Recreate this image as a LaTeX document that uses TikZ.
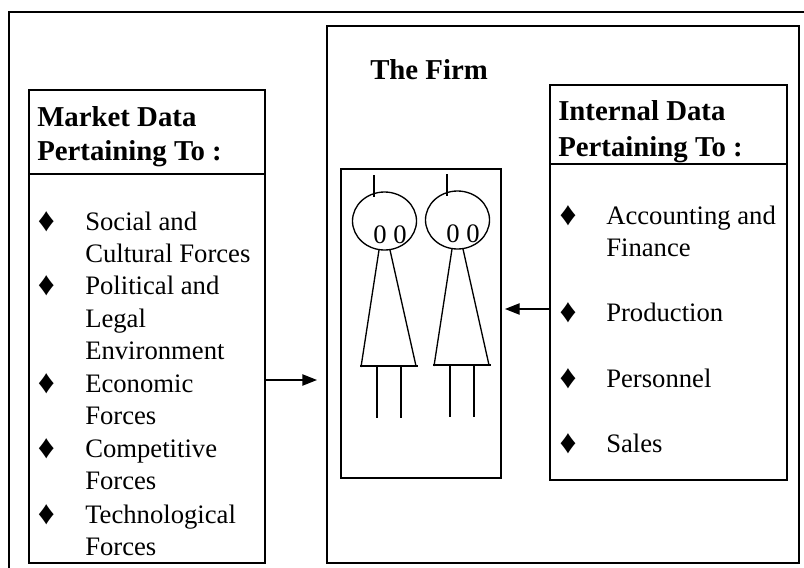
\documentclass[tikz,border=0pt]{standalone}
\usepackage{fontspec}
\setmainfont{Liberation Serif}
\usetikzlibrary{arrows.meta}
\tikzset{
  frame/.style={draw, line width=1.1pt, minimum width=0pt},
  txt/.style={anchor=base west, inner sep=0pt, font=\fontsize{20}{24}\selectfont},
  head/.style={txt, font=\fontsize{21.6}{26}\selectfont\bfseries},
  dot/.style={anchor=base, inner sep=0pt, font=\fontsize{25}{30}\selectfont},
  eye/.style={anchor=base, inner sep=0pt, font=\fontsize{20}{24}\selectfont},
  arrow/.style={-{Triangle[length=11pt,width=8.5pt]}, line width=1pt}
}
\begin{document}
\begin{tikzpicture}[x=0.75pt, y=-0.75pt]
  \useasboundingbox (0,0) rectangle (804,568);

  % Marco exterior (solo arriba e izquierda)
  \draw[line width=1.2pt] (9,568) -- (9,12) -- (804,12);

  % Cajas
  \node[frame, line width=1.1pt, minimum width=354pt, minimum height=403pt] (firm) at (563,294.5) {};
  \node[frame, line width=1.8pt, minimum width=177pt, minimum height=355pt] (market) at (147,326.5) {};
  \node[frame, line width=1.8pt, minimum width=177.5pt, minimum height=296pt] (internal) at (668.5,282.5) {};
  \node[frame, minimum width=120pt, minimum height=232pt] (people) at (421,323.5) {};

  % Lineas bajo los encabezados
  \draw[line width=1.2pt] (29,174) -- (265,174);
  \draw[line width=1.2pt] (550,164) -- (787,164);

  % Encabezados
  \node[head] (firmtitle) at (370,79) {The Firm};
  \node[head] (markettop) at (37,126) {Market Data};
  \node[head] (marketsub) at (37,160) {Pertaining To :};
  \node[head] (internaltop) at (558,120) {Internal Data};
  \node[head] (internalsub) at (558,156) {Pertaining To :};

  % Lista de mercado
  \node[txt] (social) at (85,230) {Social and};
  \node[txt] (cultural) at (85,262) {Cultural Forces};
  \node[txt] (political) at (85,294.5) {Political and};
  \node[txt] (legal) at (85,327) {Legal};
  \node[txt] (environment) at (85,359) {Environment};
  \node[txt] (economic) at (85,392) {Economic};
  \node[txt] (forcesa) at (85,424) {Forces};
  \node[txt] (competitive) at (85,457) {Competitive};
  \node[txt] (forcesb) at (85,489) {Forces};
  \node[txt] (technological) at (85,523) {Technological};
  \node[txt] (forcesc) at (85,555) {Forces};
  \foreach \y in {230,294.5,392,457,523}
    \node[dot] (mdot\y) at (46.5,\y+1) {♦};

  % Lista interna
  \node[txt] (accounting) at (606,224) {Accounting and};
  \node[txt] (finance) at (606,256) {Finance};
  \node[txt] (production) at (606,321) {Production};
  \node[txt] (personnel) at (606,387) {Personnel};
  \node[txt] (sales) at (606,452) {Sales};
  \foreach \y in {224,321,387,452}
    \node[dot] (idot\y) at (568,\y+1) {♦};

  % Figuras
  \foreach \n/\dx/\dy in {a/0/0, b/73/-1}{
    \begin{scope}[shift={(\dx,\dy)}, line width=1pt]
      \draw (384.5,221) ellipse [x radius=32, y radius=29];
      \draw[line width=1.6pt] (374,175) -- (374,197);
      \node[eye] (eyes\n) at (390,243) {0 0};
      \draw (379,250) -- (361,367);
      \draw (390,250) -- (416,366);
      \draw (360,366) -- (418,366);
      \draw (377,366) -- (377,418);
      \draw (401,366) -- (401,418);
    \end{scope}
  }

  % Flechas
  \coordinate (firmin) at (317,380);
  \coordinate (peoplein) at (505,309);
  \draw[arrow] (market.east |- firmin) -- (firmin);
  \draw[arrow] (internal.west |- peoplein) -- (peoplein);
\end{tikzpicture}
\end{document}
